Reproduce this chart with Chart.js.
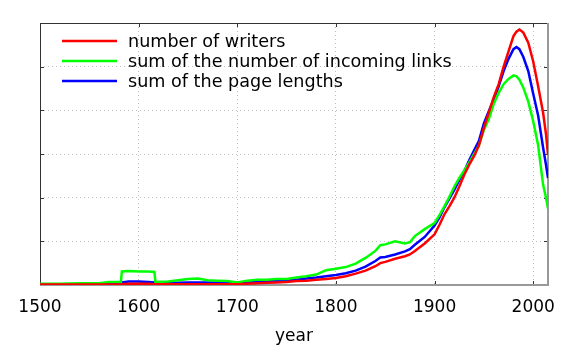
<!DOCTYPE html>
<html>
<head>
<meta charset="utf-8">
<script src="https://cdn.jsdelivr.net/npm/chart.js@4"></script>
<style>
html,body{margin:0;padding:0;background:#fff;}
#wrap{width:581px;height:349px;position:relative;}
</style>
</head>
<body>
<div id="wrap"><canvas id="c" width="581" height="349"></canvas></div>
<script>
const years = [1500,1520,1540,1560,1570,1582,1583,1590,1600,1610,1616,1617,1630,1640,1650,1660,1670,1680,1690,1700,1710,1720,1730,1740,1750,1760,1770,1780,1790,1800,1810,1820,1830,1840,1845,1850,1860,1870,1875,1880,1890,1900,1905,1910,1915,1920,1925,1930,1935,1940,1945,1950,1955,1960,1965,1970,1975,1980,1983,1986,1990,1995,2000,2005,2010,2013,2015];
const writers = [0.01,0.01,0.01,0.01,0.01,0.01,0.02,0.03,0.03,0.03,0.02,0.02,0.02,0.02,0.02,0.02,0.02,0.02,0.02,0.02,0.03,0.04,0.05,0.06,0.07,0.09,0.10,0.12,0.14,0.16,0.20,0.26,0.33,0.43,0.50,0.53,0.60,0.66,0.70,0.78,0.95,1.16,1.38,1.62,1.80,2.00,2.25,2.52,2.75,2.95,3.20,3.60,3.95,4.30,4.60,5.00,5.35,5.70,5.80,5.85,5.78,5.55,5.12,4.55,3.95,3.45,2.98];
const links = [0.03,0.03,0.04,0.04,0.07,0.07,0.31,0.32,0.31,0.31,0.30,0.07,0.08,0.11,0.14,0.15,0.11,0.10,0.09,0.06,0.10,0.12,0.12,0.14,0.14,0.17,0.20,0.24,0.34,0.37,0.41,0.49,0.62,0.78,0.91,0.93,1.00,0.95,0.98,1.12,1.28,1.42,1.60,1.80,2.02,2.25,2.45,2.62,2.80,3.00,3.20,3.55,3.80,4.15,4.40,4.60,4.72,4.80,4.78,4.70,4.52,4.20,3.75,3.20,2.30,2.00,1.75];
const lengths = [0.02,0.02,0.02,0.03,0.03,0.04,0.06,0.08,0.08,0.07,0.06,0.05,0.04,0.05,0.06,0.06,0.06,0.05,0.05,0.04,0.06,0.07,0.08,0.09,0.10,0.12,0.15,0.17,0.20,0.23,0.27,0.33,0.42,0.55,0.63,0.64,0.70,0.77,0.82,0.92,1.10,1.36,1.55,1.78,1.98,2.18,2.40,2.60,2.85,3.08,3.30,3.70,3.98,4.25,4.55,4.90,5.18,5.40,5.45,5.40,5.22,4.90,4.38,3.88,3.15,2.75,2.45];
const seriesLabels = ["number of writers","sum of the number of incoming links","sum of the page lengths"];
const seriesColors = ["#ff0000","#00ff00","#0000ff"];
const xTicks = [1500,1600,1700,1800,1900,2000];
const yTicks = [0,1,2,3,4,5,6];

const FONT = "DejaVu Sans";
const toPts = arr => years.map((x,i)=>({x:x, y:arr[i]}));

const framePlugin = {
  id:'frame',
  beforeDatasetsDraw(chart){
    const {ctx, chartArea:a, scales} = chart;
    ctx.save();
    ctx.strokeStyle = '#333'; ctx.lineWidth = 1;
    ctx.beginPath();
    xTicks.forEach(v=>{
      const px = Math.round(scales.x.getPixelForValue(v))+0.5;
      ctx.moveTo(px,a.bottom); ctx.lineTo(px,a.bottom-4);
      ctx.moveTo(px,a.top); ctx.lineTo(px,a.top+4);
    });
    yTicks.forEach(v=>{
      const py = Math.round(scales.y.getPixelForValue(v))+0.5;
      ctx.moveTo(a.left,py); ctx.lineTo(a.left+4,py);
      ctx.moveTo(a.right,py); ctx.lineTo(a.right-4,py);
    });
    ctx.stroke();
    ctx.strokeStyle = '#333'; ctx.lineWidth = 1;
    ctx.beginPath();
    ctx.moveTo(a.left+0.5,a.bottom); ctx.lineTo(a.left+0.5,a.top+0.5); ctx.lineTo(a.right,a.top+0.5);
    ctx.stroke();
    ctx.strokeStyle = '#999'; ctx.lineWidth = 2;
    ctx.beginPath();
    ctx.moveTo(a.left,a.bottom); ctx.lineTo(a.right,a.bottom); ctx.lineTo(a.right,a.top);
    ctx.stroke();
    ctx.restore();
  },
  afterDraw(chart){
    const {ctx} = chart;
    ctx.save();
    ctx.font = "17.6px '"+FONT+"'";
    ctx.textBaseline = 'middle';
    ctx.fillStyle = '#000';
    chart.data.datasets.forEach((ds,i)=>{
      const y = 41 + 20*i;
      ctx.strokeStyle = ds.borderColor; ctx.lineWidth = 2.5;
      ctx.beginPath(); ctx.moveTo(62,y); ctx.lineTo(117,y); ctx.stroke();
      ctx.fillText(ds.label,128,y+1);
    });
    ctx.restore();
  }
};

new Chart(document.getElementById('c'),{
  type:'line',
  data:{datasets:[
    {label:seriesLabels[0], data:toPts(writers), borderColor:seriesColors[0]},
    {label:seriesLabels[1], data:toPts(links), borderColor:seriesColors[1]},
    {label:seriesLabels[2], data:toPts(lengths), borderColor:seriesColors[2]}
  ]},
  options:{
    responsive:false, animation:false,
    layout:{padding:{top:23,right:33,left:0,bottom:0}},
    elements:{line:{borderWidth:2.5,tension:0,fill:false},point:{radius:0}},
    plugins:{legend:{display:false},tooltip:{enabled:false}},
    scales:{
      x:{type:'linear',min:1500,max:2015,
        afterBuildTicks:s=>{s.ticks = xTicks.map(v=>({value:v}));},
        afterFit:s=>{s.height=64;},
        ticks:{font:{family:FONT,size:17},color:'#000',padding:12,maxRotation:0,autoSkip:false,callback:v=>String(v)},
        grid:{color:'#c0c0c0',lineWidth:1,drawTicks:false},
        border:{display:false,dash:[1,3]},
        title:{display:true,text:'year',font:{family:FONT,size:17},color:'#000',padding:{top:4,bottom:2}}
      },
      y:{min:0,max:6,
        afterBuildTicks:s=>{s.ticks = yTicks.map(v=>({value:v}));},
        afterFit:s=>{s.width=40;},
        ticks:{display:false},
        grid:{color:'#c0c0c0',lineWidth:1,drawTicks:false},
        border:{display:false,dash:[1,3]}
      }
    }
  },
  plugins:[framePlugin]
});
</script>
</body>
</html>
